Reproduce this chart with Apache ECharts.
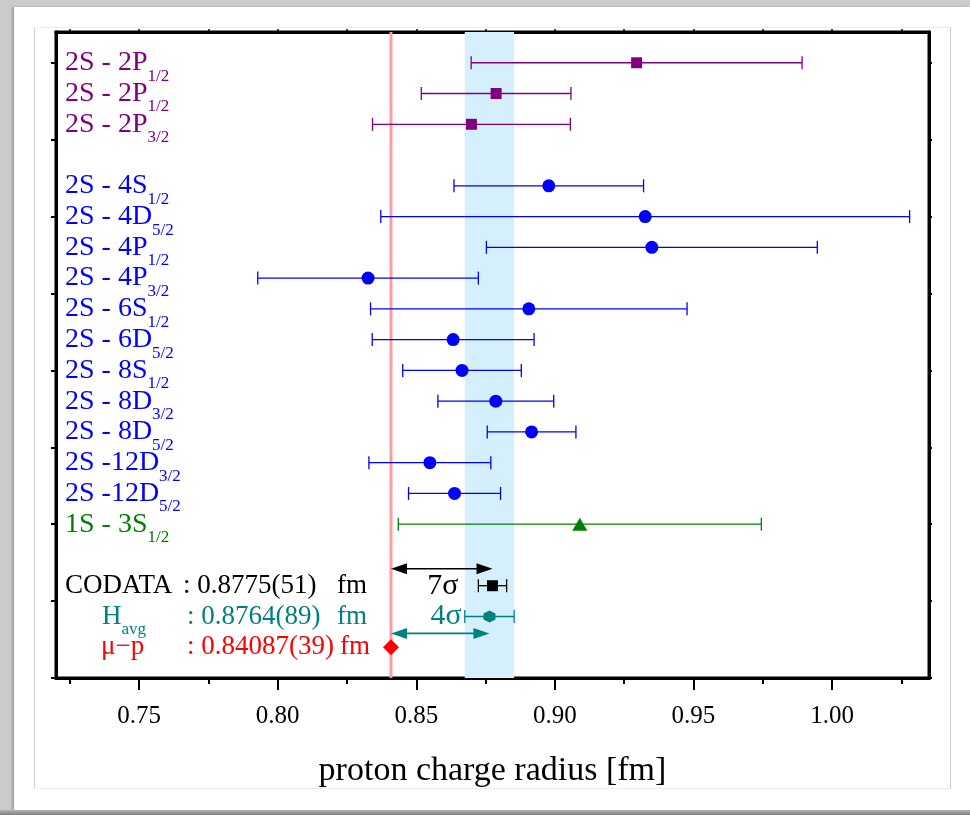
<!DOCTYPE html>
<html><head><meta charset="utf-8">
<script src="https://cdn.jsdelivr.net/npm/echarts@6/dist/echarts.min.js"></script>
<style>
html,body{margin:0;padding:0;width:970px;height:815px;background:#cbcbcb;overflow:hidden}
#card{position:absolute;left:14px;top:7px;width:956px;height:803px;background:#fff;box-shadow:-2px 0 2px #a0a0a0}
#band{position:absolute;left:0;top:810px;width:970px;height:5px;background:linear-gradient(#b5b5b5,#7e7e7e)}
#inner{position:absolute;left:34px;top:27px;width:915px;height:760px;border:1px solid #ececec;border-left-color:#cfcfcf;border-right-color:#cfcfcf}
#chart{position:absolute;left:0;top:0;width:970px;height:815px}
</style></head>
<body>
<div id="card"></div><div id="band"></div><div id="inner"></div>
<div id="chart"></div>
<script>
// ---- data ----
const names   = ['2S - 2P','2S - 2P','2S - 2P','2S - 4S','2S - 4D','2S - 4P','2S - 4P','2S - 6S','2S - 6D','2S - 8S','2S - 8D','2S - 8D','2S -12D','2S -12D','1S - 3S'];
const subs    = ['1/2','1/2','3/2','1/2','5/2','1/2','3/2','1/2','5/2','1/2','3/2','5/2','3/2','5/2','1/2'];
const rows    = [0,1,2,4,5,6,7,8,9,10,11,12,13,14,15];
const groups  = [0,0,0,1,1,1,1,1,1,1,1,1,1,1,2]; // 0 purple, 1 blue, 2 green
const radii   = [0.9295,0.8788,0.8699,0.8978,0.9326,0.9350,0.8326,0.8906,0.8633,0.8665,0.8787,0.8916,0.8549,0.8638,0.9090];
const errors  = [0.0597,0.0270,0.0357,0.0342,0.0954,0.0597,0.0398,0.0571,0.0292,0.0214,0.0209,0.0160,0.0220,0.0166,0.0655];

const refNames  = ['CODATA','H','μ−p'];
const refSubs   = ['','avg',''];
const refText   = [': 0.8775(51)',': 0.8764(89)',': 0.84087(39)'];
const refUnit   = 'fm';
const refRows   = [17,18,19];
const refRadii  = [0.8775,0.8764,0.84087];
const refErrors = [0.0051,0.0089,0.00039];
const sigmaText = ['7σ','4σ'];
const arrowRows = [16.45,18.55];

const xTicksMajor = [0.75,0.80,0.85,0.90,0.95,1.00];
const xTicksMinor = [0.725,0.775,0.825,0.875,0.925,0.975,1.025];
const xTicksAll   = [0.725,0.75,0.775,0.80,0.825,0.85,0.875,0.90,0.925,0.95,0.975,1.00,1.025];
const yTicks = [0,2.5,5,7.5,10,12.5,15,17.5,20];

// ---- style ----
const X_MIN = 0.72, X_MAX = 1.035;
const groupColors = ['#800080','#0000ff','#008000'];
const refColors = ['#000000','#008080','#ff0000'];
const FONT = 'Liberation Serif';
const nameOffsets = [0,37,36], valueOffsets = [118,122,122], unitOffsets = [272,272,275];

const chart = echarts.init(document.getElementById('chart'), null, {renderer:'canvas'});

const errData = [];
rows.forEach((r,i)=>errData.push([radii[i]-errors[i], radii[i]+errors[i], r, groupColors[groups[i]]]));
errData.push([refRadii[0]-refErrors[0], refRadii[0]+refErrors[0], refRows[0], refColors[0]]);
errData.push([refRadii[1]-refErrors[1], refRadii[1]+refErrors[1], refRows[1], refColors[1]]);

const arrowData = [
  [refRadii[2], refRadii[0], arrowRows[0], refColors[0]],
  [refRadii[2], refRadii[1], arrowRows[1], refColors[1]]
];

function pts(g){ const a=[]; rows.forEach((r,i)=>{ if(groups[i]===g) a.push([radii[i], r]); }); return a; }

const labelData = rows.map((r,i)=>{
  const c = groupColors[groups[i]];
  return {value:[X_MIN, r], label:{formatter:'{m|'+names[i]+'}{s|'+subs[i]+'}',
    rich:{m:{fontFamily:FONT,fontSize:28,color:c}, s:{fontFamily:FONT,fontSize:17,color:c,padding:[27,0,0,0]}}}};
});
refNames.forEach((n,i)=>{
  const c = refColors[i];
  const f = refSubs[i] ? '{m|'+n+'}{s|'+refSubs[i]+'}' : '{m|'+n+'}';
  labelData.push({value:[X_MIN, refRows[i]], label:{formatter:f, offset:[nameOffsets[i],0],
    rich:{m:{fontFamily:FONT,fontSize:27,color:c}, s:{fontFamily:FONT,fontSize:17,color:c,padding:[27,0,0,0]}}}});
  labelData.push({value:[X_MIN, refRows[i]], label:{formatter:refText[i], offset:[valueOffsets[i],0], fontFamily:FONT, fontSize:27, color:c}});
  labelData.push({value:[X_MIN, refRows[i]], label:{formatter:refUnit, offset:[unitOffsets[i],0], fontFamily:FONT, fontSize:27, color:c}});
});

const hexPath = 'path://M0,-10L8.66,-5L8.66,5L0,10L-8.66,5L-8.66,-5Z';
const op = {opacity:1};

const option = {
  animation:false,
  grid:{left:56, top:32, right:41, bottom:137, show:true, borderColor:'#000', borderWidth:3, backgroundColor:'transparent'},
  xAxis:[
    {type:'value', min:X_MIN, max:X_MAX, position:'bottom',
     axisLine:{show:true, onZero:false, lineStyle:{color:'#000', width:3}},
     axisTick:{show:true, length:12, customValues:xTicksMajor, lineStyle:{color:'#000', width:2}},
     axisLabel:{show:true, customValues:xTicksMajor, formatter:v=>v.toFixed(2), fontFamily:FONT, fontSize:25, color:'#000', margin:26},
     splitLine:{show:false},
     name:'proton charge radius [fm]', nameLocation:'middle', nameGap:76,
     nameTextStyle:{fontFamily:FONT, fontSize:34, color:'#000'}},
    {type:'value', min:X_MIN, max:X_MAX, position:'bottom',
     axisLine:{show:false, onZero:false},
     axisTick:{show:true, length:6, customValues:xTicksMinor, lineStyle:{color:'#000', width:2}},
     axisLabel:{show:false}, splitLine:{show:false}},
    {type:'value', min:X_MIN, max:X_MAX, position:'top',
     axisLine:{show:true, onZero:false, lineStyle:{color:'#000', width:3}},
     axisTick:{show:true, length:3, customValues:xTicksAll, lineStyle:{color:'#000', width:1.5}},
     axisLabel:{show:false}, splitLine:{show:false}}
  ],
  yAxis:[
    {type:'value', min:-1, max:20, inverse:true, position:'left',
     axisLine:{show:true, onZero:false, lineStyle:{color:'#000', width:3}},
     axisTick:{show:true, length:5, customValues:yTicks, lineStyle:{color:'#000', width:2}},
     axisLabel:{show:false}, splitLine:{show:false}},
    {type:'value', min:-1, max:20, inverse:true, position:'right',
     axisLine:{show:true, onZero:false, lineStyle:{color:'#000', width:3}},
     axisTick:{show:true, length:3, customValues:yTicks, lineStyle:{color:'#000', width:2}},
     axisLabel:{show:false}, splitLine:{show:false}}
  ],
  series:[
    // H_avg band and mu-p line
    {type:'custom', z:1, silent:true, clip:true,
     data:[[refRadii[1]-refErrors[1], refRadii[1]+refErrors[1], refRadii[2]]], encode:{x:[0,1]},
     renderItem:(params, api)=>{
       const cs = params.coordSys;
       const x0 = api.coord([api.value(0), 0])[0];
       const x1 = api.coord([api.value(1), 0])[0];
       const xr = api.coord([api.value(2), 0])[0];
       return {type:'group', children:[
         {type:'rect', shape:{x:x0, y:cs.y, width:x1-x0, height:cs.height}, style:{fill:'#d6effc'}},
         {type:'line', shape:{x1:xr, y1:cs.y, x2:xr, y2:cs.y+cs.height}, style:{stroke:'#ff9c9c', lineWidth:3}}
       ]};
     }},
    {type:'custom', z:3, silent:true, data:errData, encode:{x:[0,1], y:2},
     renderItem:(params, api)=>{
       const lo = api.coord([api.value(0), api.value(2)]);
       const hi = api.coord([api.value(1), api.value(2)]);
       const c = errData[params.dataIndex][3];
       const h = 6.5, lw = 1.3;
       return {type:'group', children:[
         {type:'line', shape:{x1:lo[0],y1:lo[1],x2:hi[0],y2:hi[1]}, style:{stroke:c, lineWidth:lw}},
         {type:'line', shape:{x1:lo[0],y1:lo[1]-h,x2:lo[0],y2:lo[1]+h}, style:{stroke:c, lineWidth:lw}},
         {type:'line', shape:{x1:hi[0],y1:hi[1]-h,x2:hi[0],y2:hi[1]+h}, style:{stroke:c, lineWidth:lw}}
       ]};
     }},
    {type:'custom', z:4, silent:true, data:arrowData, encode:{x:[0,1], y:2},
     renderItem:(params, api)=>{
       const a = api.coord([api.value(0), api.value(2)]);
       const b = api.coord([api.value(1), api.value(2)]);
       const c = arrowData[params.dataIndex][3];
       const L = 16, W = 5.5, y = a[1];
       return {type:'group', children:[
         {type:'line', shape:{x1:a[0]+L-2,y1:y,x2:b[0]-L+2,y2:y}, style:{stroke:c, lineWidth:1.6}},
         {type:'polygon', shape:{points:[[a[0],y],[a[0]+L,y-W],[a[0]+L,y+W]]}, style:{fill:c}},
         {type:'polygon', shape:{points:[[b[0],y],[b[0]-L,y-W],[b[0]-L,y+W]]}, style:{fill:c}}
       ]};
     }},
    {type:'scatter', z:5, data:pts(0), symbol:'rect', symbolSize:11, itemStyle:{color:groupColors[0], opacity:1}},
    {type:'scatter', z:5, data:pts(1), symbol:'circle', symbolSize:13, itemStyle:{color:groupColors[1], opacity:1}},
    {type:'scatter', z:5, data:pts(2), symbol:'triangle', symbolSize:[15,13], itemStyle:{color:groupColors[2], opacity:1}},
    {type:'scatter', z:5, data:[[refRadii[0], refRows[0]]], symbol:'rect', symbolSize:11, itemStyle:{color:refColors[0], opacity:1}},
    {type:'scatter', z:5, data:[[refRadii[1], refRows[1]]], symbol:hexPath, symbolSize:12, itemStyle:{color:refColors[1], opacity:1}},
    {type:'scatter', z:5, data:[[refRadii[2], refRows[2]]], symbol:'diamond', symbolSize:16, itemStyle:{color:refColors[2], opacity:1}},
    // sigma labels
    {type:'scatter', z:6, symbolSize:0, silent:true, itemStyle:op,
     data:[
       {value:[refRadii[0]-refErrors[0], refRows[0]], label:{show:true, position:'left', distance:20, formatter:sigmaText[0], fontFamily:FONT, fontSize:30, color:refColors[0]}},
       {value:[refRadii[1]-refErrors[1], refRows[1]], label:{show:true, position:'left', distance:3, formatter:sigmaText[1], fontFamily:FONT, fontSize:30, color:refColors[1]}}
     ]},
    // row labels
    {type:'scatter', z:6, symbolSize:0, silent:true, itemStyle:op,
     label:{show:true, position:'right', distance:9},
     data:labelData}
  ]
};
chart.setOption(option);
</script>
</body></html>
